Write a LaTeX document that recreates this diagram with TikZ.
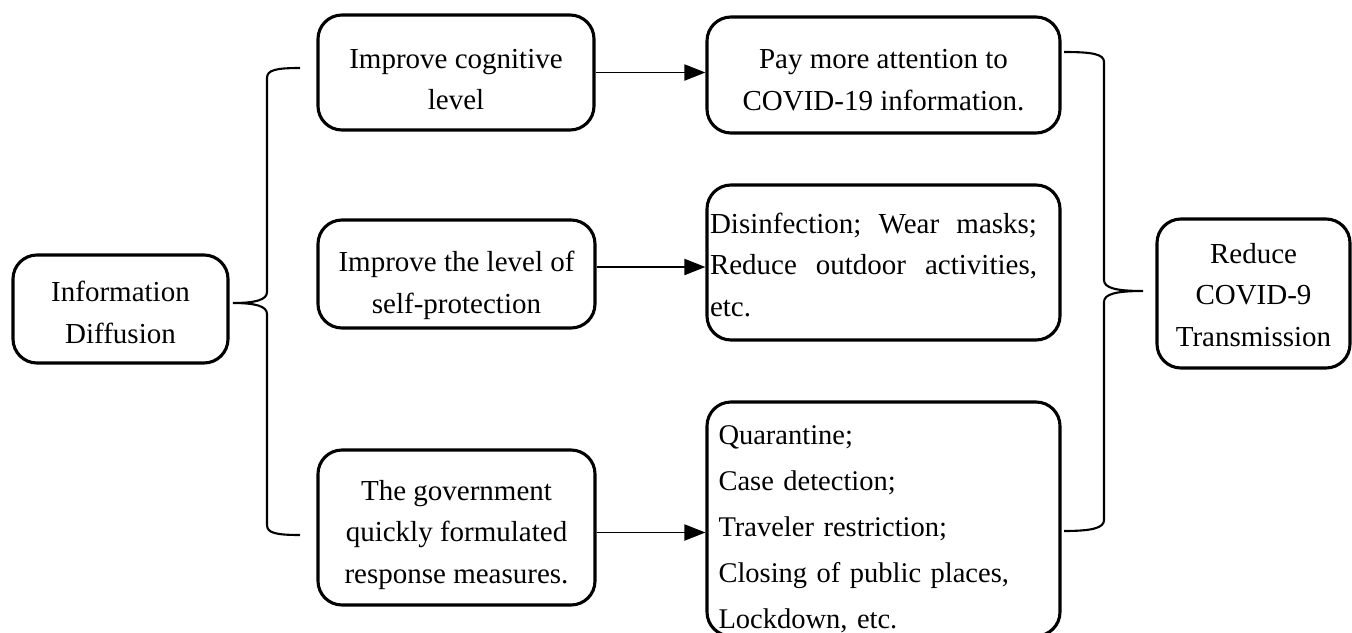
\documentclass[tikz,border=0pt]{standalone}
\usepackage{fontspec}
\setmainfont{Liberation Serif}
\usetikzlibrary{arrows.meta}
% lines set in a tabular, drawn #1 lower than the centre without changing the box size
\newcommand\lowtext[3]{\raisebox{-#1}[\height][\depth]{\begin{tabular}{@{}#2@{}}#3\end{tabular}}}
\begin{document}
\begin{tikzpicture}[x=1pt,y=-1pt,
  box/.style={draw,line width=3.1pt,rounded corners=24pt,inner sep=0pt,font=\fontsize{29}{41.5}\selectfont},
  arr/.style={line width=1.9pt,-{Triangle[length=21pt,width=16pt]}},
  bracket/.style={line width=2.1pt}]
\useasboundingbox (0,0) rectangle (1352,632);
% left column
\node[box,minimum width=215pt,minimum height=108pt] (info) at (120.5,309) {\lowtext{5pt}{c}{Information\\Diffusion}};
% middle column
\node[box,minimum width=276pt,minimum height=115pt] (cog) at (456,72.5) {\lowtext{8pt}{c}{Improve cognitive\\level}};
\node[box,minimum width=277pt,minimum height=108pt] (self) at (456.5,274) {\lowtext{10pt}{c}{Improve the level of\\self-protection}};
\node[box,minimum width=277pt,minimum height=155pt] (gov) at (456.5,527.5) {\lowtext{6pt}{c}{The government\\quickly formulated\\response measures.}};
% right column
\node[box,minimum width=353pt,minimum height=116pt] (pay) at (883.5,75) {\lowtext{6pt}{c}{Pay more attention to\\COVID-19 information.}};
\node[box,minimum width=353pt,minimum height=155pt,text width=347pt] (dis) at (883.5,262.5)
  {\lowtext{4pt}{l}{\hbox to 327pt{Disinfection;\hfill Wear\hfill masks;}\\\hbox to 327pt{Reduce\hfill outdoor\hfill activities,}\\etc.}};
\node[box,minimum width=353pt,minimum height=234pt,text width=330pt,font=\fontsize{28.5}{46}\selectfont] (quar) at (883.5,519)
  {\lowtext{8pt}{l}{Quarantine;\\Case detection;\\Traveler restriction;\\Closing of public places,\\Lockdown, etc.}};
% result
\node[box,minimum width=193pt,minimum height=149pt] (red) at (1253.5,293.5) {\lowtext{3pt}{c}{Reduce\\COVID-9\\Transmission}};
% arrows
\draw[arr] (cog.east) -- (cog.east -| pay.west);
\draw[arr] ([yshift=7pt]self.east) -- ([yshift=7pt]self.east -| dis.west);
\draw[arr] ([yshift=-5pt]gov.east) -- ([yshift=-5pt]gov.east -| quar.west);
% left brace
\coordinate (lbA) at (300,68);
\coordinate (lbTip) at (233,303);
\coordinate (lbB) at (300,535);
\draw[bracket] (lbA) .. controls (276,68) and (267,70) .. (267,78) -- (267,292)
  .. controls (267,300) and (255,303) .. (lbTip)
  .. controls (255,303) and (267,306) .. (267,314) -- (267,525)
  .. controls (267,533) and (276,535) .. (lbB);
% right brace
\coordinate (rbA) at (1064,52);
\coordinate (rbTip) at (1143,291);
\coordinate (rbB) at (1064,531);
\draw[bracket] (rbA) .. controls (1092,52) and (1104,54) .. (1104,62) -- (1104,280)
  .. controls (1104,288) and (1116,291) .. (rbTip)
  .. controls (1116,291) and (1104,294) .. (1104,302) -- (1104,520)
  .. controls (1104,528) and (1092,531) .. (rbB);
\end{tikzpicture}
\end{document}
